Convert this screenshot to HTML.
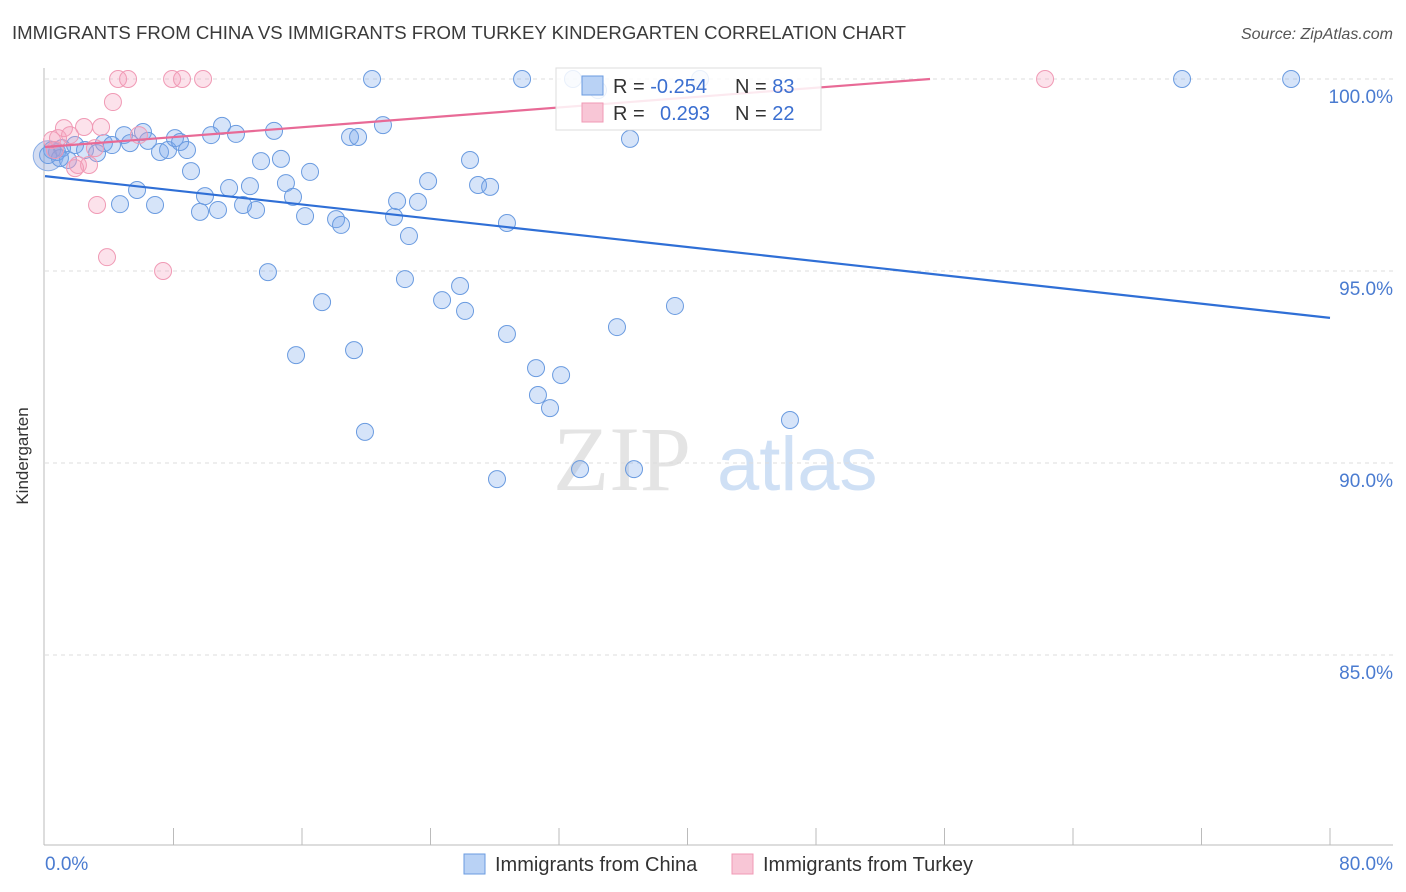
<!DOCTYPE html>
<html><head><meta charset="utf-8"><style>
body{margin:0;background:#fff;font-family:"Liberation Sans",sans-serif}
svg{display:block}
</style></head><body>
<svg id="chart" width="1406" height="892">
<text x="12" y="39" font-size="18.6" fill="#3a3a3a">IMMIGRANTS FROM CHINA VS IMMIGRANTS FROM TURKEY KINDERGARTEN CORRELATION CHART</text>
<text x="1393" y="39" font-size="16" fill="#555" font-style="italic" text-anchor="end">Source: ZipAtlas.com</text>
<g>
<text x="553" y="490" font-size="92" font-family="Liberation Serif,serif" fill="#e4e4e4">ZIP</text>
<text x="717" y="490" font-size="76" fill="#cfe0f5">atlas</text>
</g>
<g id="grid"></g>
<line x1="44" y1="68" x2="44" y2="845" stroke="#bbb"/>
<line x1="44" y1="845" x2="1393" y2="845" stroke="#bbb"/>
<g id="ticks"></g>
<text x="28" y="456" font-size="17" fill="#333" transform="rotate(-90 28 456)" text-anchor="middle">Kindergarten</text>
<text x="45" y="870" font-size="19" fill="#4a7bd0">0.0%</text>
<text x="1393" y="870" font-size="19" fill="#4a7bd0" text-anchor="end">80.0%</text>
<g id="marks"></g>
<g>
<rect x="556" y="68" width="265" height="62" fill="#fff" fill-opacity="0.85" stroke="#ddd"/>
<rect x="582" y="76" width="21" height="19" fill="#b9d2f5" stroke="#6a9be0"/>
<rect x="582" y="103" width="21" height="19" fill="#f8c6d6" stroke="#f09ab5"/>
<text x="613" y="93" font-size="20" fill="#333">R = <tspan fill="#3b6fd0">-0.254</tspan></text>
<text x="735" y="93" font-size="20" fill="#333">N = <tspan fill="#3b6fd0">83</tspan></text>
<text x="613" y="120" font-size="20" fill="#333">R = <tspan fill="#3b6fd0" x="660">0.293</tspan></text>
<text x="735" y="120" font-size="20" fill="#333">N = <tspan fill="#3b6fd0">22</tspan></text>
</g>
<g>
<rect x="464" y="854" width="21" height="20" fill="#b9d2f5" stroke="#6a9be0"/>
<text x="495" y="871" font-size="20" fill="#333">Immigrants from China</text>
<rect x="732" y="854" width="21" height="20" fill="#f8c6d6" stroke="#f09ab5"/>
<text x="763" y="871" font-size="20" fill="#333">Immigrants from Turkey</text>
</g>
</svg>
<script>
const yTicks=[100,95,90,85];
const yTickLabels=["100.0%","95.0%","90.0%","85.0%"];
const xTicks=[8,16,24,32,40,48,56,64,72,80];
const chinaX=[0.44,0.75,1.06,1.43,1.87,2.49,3.24,3.67,4.17,4.67,4.92,5.29,5.73,6.10,6.41,6.85,7.16,7.66,8.09,8.41,8.84,9.09,9.65,9.96,10.34,10.77,11.02,11.46,11.89,12.33,12.76,13.14,13.45,13.88,14.26,14.69,15.00,15.44,15.63,16.19,16.50,17.25,18.12,18.43,18.99,19.24,19.49,19.92,20.36,21.04,21.73,21.92,22.41,22.66,23.22,23.85,24.72,25.84,26.15,26.46,26.96,27.71,28.14,28.76,28.76,29.70,30.57,30.69,31.44,32.13,32.87,33.31,34.43,35.61,36.42,36.67,39.22,40.78,46.38,70.79,77.58,0.19,0.93];
const chinaY=[98.15,98.10,98.20,97.89,98.28,98.15,98.07,98.33,98.28,96.74,98.54,98.33,97.11,98.62,98.39,96.72,98.10,98.15,98.46,98.36,98.15,97.60,96.54,96.95,98.54,96.59,98.78,97.16,98.57,96.72,97.21,96.59,97.86,94.97,98.65,97.92,97.29,96.93,92.81,96.43,97.58,94.19,96.35,96.20,98.49,92.94,98.49,90.81,100,98.80,96.41,96.82,94.79,95.91,96.80,97.34,94.24,94.61,93.96,97.89,97.24,97.19,89.58,93.36,96.25,100,92.47,91.77,91.43,92.29,100,89.84,99.71,93.54,98.44,89.84,94.09,100,91.12,100,100,98.02,97.94];
const turkeyX=[0.44,0.81,1.18,1.56,2.05,2.43,2.74,3.11,3.49,3.86,4.23,4.55,5.17,5.85,7.35,7.91,8.53,9.84,62.26,3.24,0.62,1.87];
const turkeyY=[98.41,98.46,98.72,98.54,97.76,98.75,97.76,98.20,98.75,95.36,99.40,100,100,98.54,95.0,100,100,100,100,96.72,98.15,97.68];
const chinaTrend=[[0,97.47],[80,93.78]];
const turkeyTrend=[[0,98.23],[55.1,100]];
const NS="http://www.w3.org/2000/svg";
const xs=v=>45+v/80*1285;
const ys=v=>79+(100-v)*38.4;
function mk(t,a,p){const e=document.createElementNS(NS,t);for(const k in a)e.setAttribute(k,a[k]);p.appendChild(e);return e;}
const grid=document.getElementById('grid'),ticks=document.getElementById('ticks'),marks=document.getElementById('marks');
yTicks.forEach((v,i)=>{
 const l=mk('line',{x1:45,x2:1393,y1:ys(v),y2:ys(v),stroke:'#ddd','stroke-dasharray':'4 4'},grid);
 
 
 const t=mk('text',{x:1393,y:ys(v)+24,'font-size':19,fill:'#4a7bd0','text-anchor':'end'},grid);
 t.textContent=yTickLabels[i];
 
 
});
xTicks.forEach(v=>{
 const l=mk('line',{x1:xs(v),x2:xs(v),y1:828,y2:845,stroke:'#bbb'},ticks);
 
 
});
const bc=mk('circle',{cx:xs(0.2),cy:ys(98.0),r:15,fill:'rgba(110,140,210,0.3)',stroke:'#8aaee6'},marks);


chinaX.forEach((x,i)=>{
 const c=mk('circle',{cx:xs(x),cy:ys(chinaY[i]),r:8.5,fill:'rgba(120,165,235,0.3)',stroke:'#6a9be0','stroke-width':1},marks);
 
 
});
turkeyX.forEach((x,i)=>{
 const c=mk('circle',{cx:xs(x),cy:ys(turkeyY[i]),r:8.5,fill:'rgba(245,160,190,0.3)',stroke:'#f09ab5','stroke-width':1},marks);
 
 
});
const l1=mk('line',{x1:xs(chinaTrend[0][0]),y1:ys(chinaTrend[0][1]),x2:xs(chinaTrend[1][0]),y2:ys(chinaTrend[1][1]),stroke:'#2f6fd6','stroke-width':2.2},marks);


const l2=mk('line',{x1:xs(turkeyTrend[0][0]),y1:ys(turkeyTrend[0][1]),x2:xs(turkeyTrend[1][0]),y2:ys(turkeyTrend[1][1]),stroke:'#e86a96','stroke-width':2.2},marks);


</script>
</body></html>
